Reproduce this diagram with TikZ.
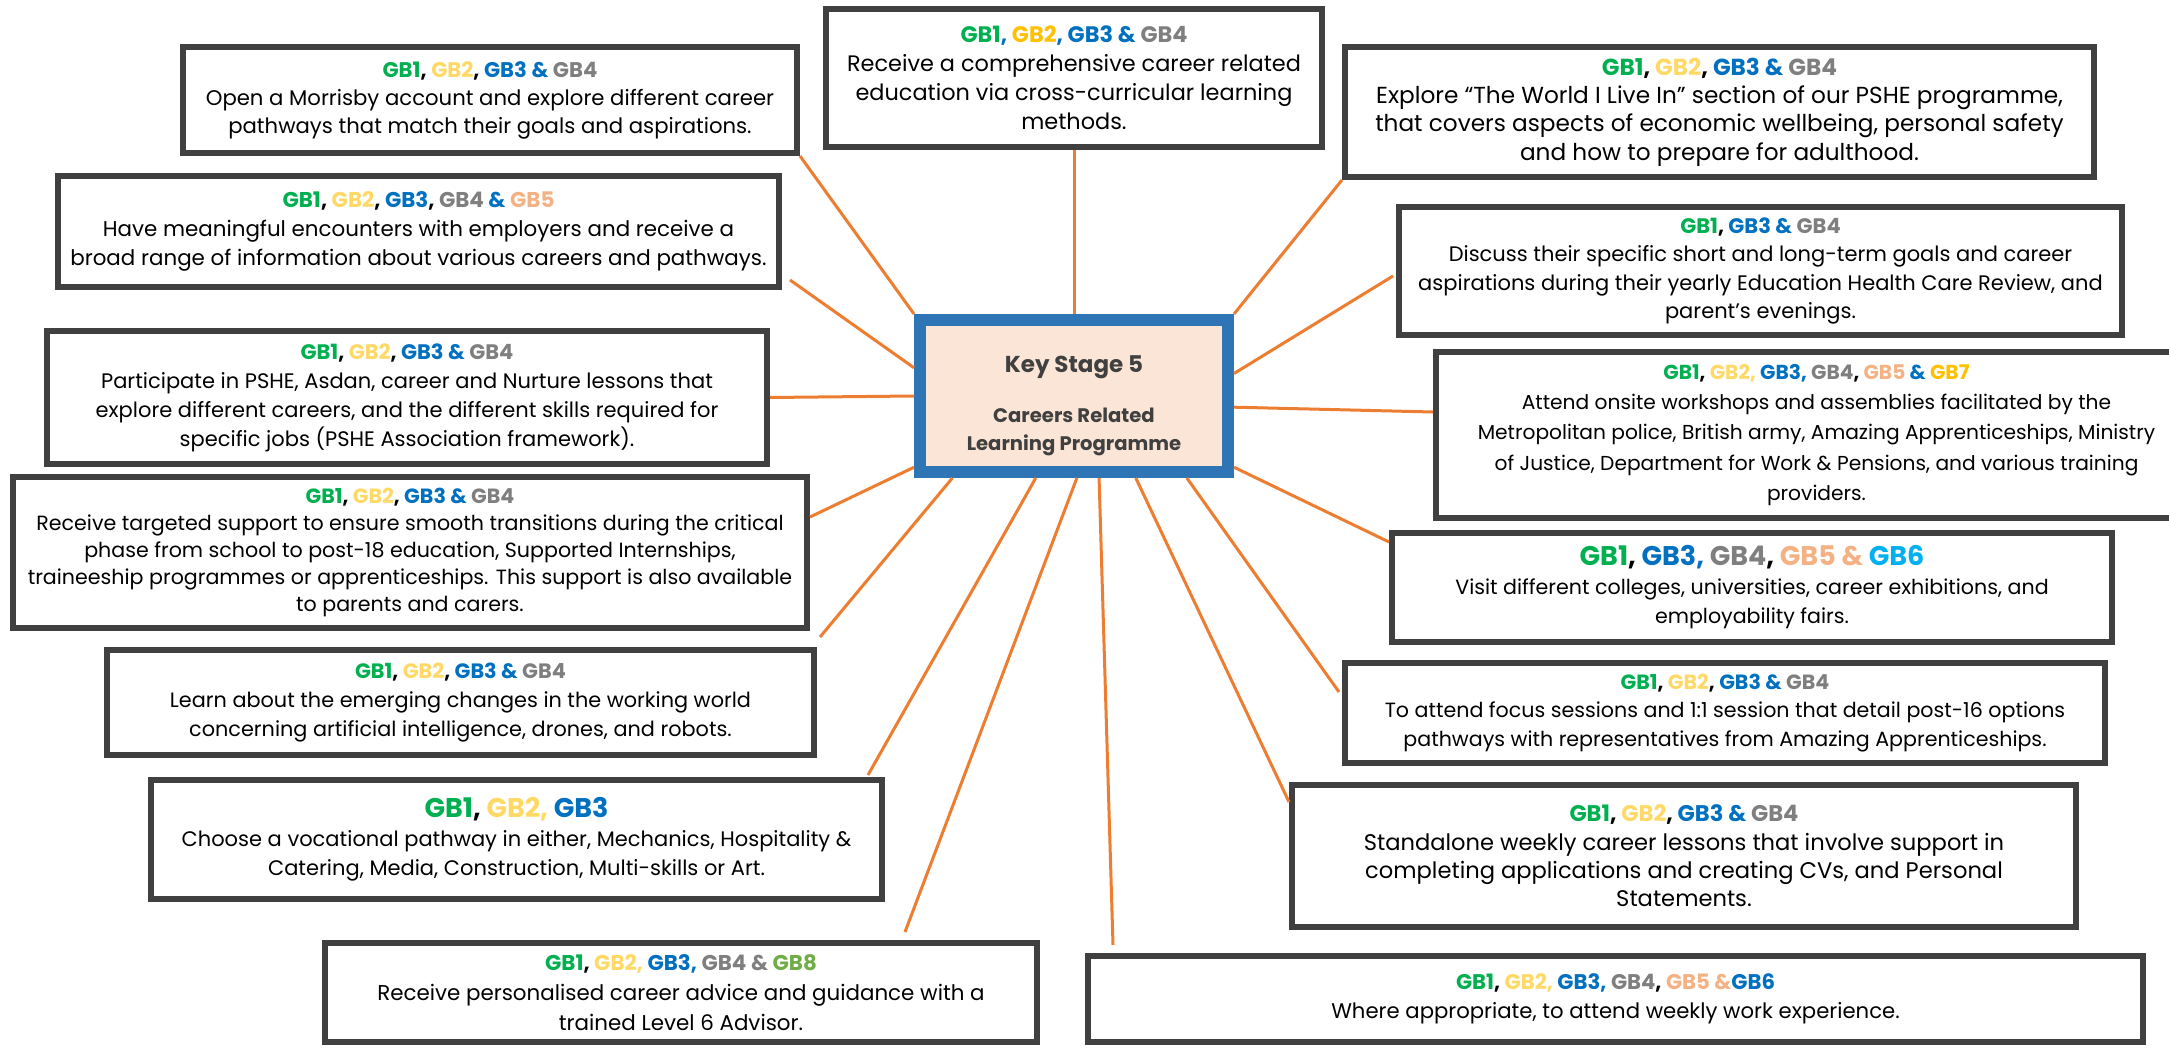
\documentclass[tikz,border=0pt]{standalone}
\usepackage{fontspec}
\setmainfont{Poppins}
\usetikzlibrary{calc}

\definecolor{gbgreen}{HTML}{00B050}
\definecolor{gbgold}{HTML}{FFC000}
\definecolor{gblight}{HTML}{FFD966}
\definecolor{gbblue}{HTML}{0070C0}
\definecolor{gbgray}{HTML}{7F7F7F}
\definecolor{gbpeach}{HTML}{F4B183}
\definecolor{gbsky}{HTML}{00B0F0}
\definecolor{gbolive}{HTML}{70AD47}
\definecolor{boxgray}{HTML}{404040}
\definecolor{linkorange}{HTML}{ED7D31}
\definecolor{ksblue}{HTML}{2E75B6}
\definecolor{kspeach}{HTML}{FBE5D6}

\newcommand{\gbc}[2]{\textcolor{#1}{#2}}

\tikzset{
  gbbox/.style={draw=boxgray, line width=3pt, fill=white, align=center,
    inner sep=1pt, text=black},
  gbfont/.style 2 args={font=\fontsize{#1}{#2}\selectfont},
  link/.style={draw=linkorange, line width=1.5pt},
}

\begin{document}
\begin{tikzpicture}[x=0.5pt, y=-0.5pt]
  \fill[white] (0,0) rectangle (2169,1048);
  \useasboundingbox (0,0) rectangle (2169,1048);

  % centre
  \node[draw=ksblue, line width=6pt, fill=kspeach, minimum width=154pt, minimum height=76pt,
        align=center, text=boxgray, font=\bfseries\fontsize{9.8}{14}\selectfont]
        (ks) at (1074,396)
        {{\fontsize{11.5}{14}\selectfont\rule{0pt}{18pt}Key Stage 5}\\[11pt] Careers Related\\Learning Programme};

  % left column
  \node[gbbox, gbfont={10.6}{14}, minimum width=307pt, minimum height=53pt] (morr) at (490,100)
    {{\bfseries\gbc{gbgreen}{GB1}, \gbc{gblight}{GB2}, \gbc{gbblue}{GB3 \&} \gbc{gbgray}{GB4}}\\
     Open a Morrisby account and explore different career\\
     pathways that match their goals and aspirations.};
  \node[gbbox, gbfont={10.7}{14.5}, minimum width=360.5pt, minimum height=55.5pt] (meet) at (418.5,231.5)
    {{\bfseries\gbc{gbgreen}{GB1}, \gbc{gblight}{GB2}, \gbc{gbblue}{GB3}, \gbc{gbgray}{GB4} \gbc{gbblue}{\&} \gbc{gbpeach}{GB5}}\\
     Have meaningful encounters with employers and receive a\\
     broad range of information about various careers and pathways.};
  \node[gbbox, gbfont={10.5}{14.5}, minimum width=360pt, minimum height=66.5pt] (part) at (407,397.5)
    {{\bfseries\gbc{gbgreen}{GB1}, \gbc{gblight}{GB2}, \gbc{gbblue}{GB3 \&} \gbc{gbgray}{GB4}}\\
     Participate in PSHE, Asdan, career and Nurture lessons that\\
     explore different careers, and the different skills required for\\
     specific jobs (PSHE Association framework).};
  \node[gbbox, gbfont={10.3}{13.6}, minimum width=397pt, minimum height=75.5pt] (targ) at (410,552.5)
    {{\bfseries\gbc{gbgreen}{GB1}, \gbc{gblight}{GB2}, \gbc{gbblue}{GB3 \&} \gbc{gbgray}{GB4}}\\
     Receive targeted support to ensure smooth transitions during the critical\\
     phase from school to post-18 education, Supported Internships,\\
     traineeship programmes or apprenticeships. This support is also available\\
     to parents and carers.};
  \node[gbbox, gbfont={10.4}{14.5}, minimum width=353.5pt, minimum height=52.5pt] (learn) at (460.5,702.5)
    {{\bfseries\gbc{gbgreen}{GB1}, \gbc{gblight}{GB2}, \gbc{gbblue}{GB3 \&} \gbc{gbgray}{GB4}}\\
     Learn about the emerging changes in the working world\\
     concerning artificial intelligence, drones, and robots.};
  \node[gbbox, gbfont={10.5}{14.5}, minimum width=365.5pt, minimum height=59.5pt] (choose) at (516.5,839.5)
    {{\bfseries\fontsize{13.5}{17}\selectfont\gbc{gbgreen}{GB1}, \gbc{gblight}{GB2,} \gbc{gbblue}{GB3}}\\
     Choose a vocational pathway in either, Mechanics, Hospitality \&\\
     Catering, Media, Construction, Multi-skills or Art.};
  \node[gbbox, gbfont={10.7}{14.8}, minimum width=356pt, minimum height=49.5pt] (pers) at (681,992.5)
    {{\bfseries\gbc{gbgreen}{GB1}, \gbc{gblight}{GB2,} \gbc{gbblue}{GB3,} \gbc{gbgray}{GB4 \&} \gbc{gbolive}{GB8}}\\
     Receive personalised career advice and guidance with a\\
     trained Level 6 Advisor.};

  % top
  \node[gbbox, gbfont={11.2}{14.5}, minimum width=248pt, minimum height=69pt] (comp) at (1074,78)
    {{\bfseries\gbc{gbgreen}{GB1}\gbc{gbblue}{,} \gbc{gbgold}{GB2}\gbc{gbblue}{,} \gbc{gbblue}{GB3 \&} \gbc{gbgray}{GB4}}\\
     Receive a comprehensive career related\\
     education via cross-curricular learning\\
     methods.};

  % right column
  \node[gbbox, gbfont={11.6}{14.2}, minimum width=374.5pt, minimum height=65pt] (world) at (1719.5,112)
    {{\bfseries\gbc{gbgreen}{GB1}, \gbc{gblight}{GB2}, \gbc{gbblue}{GB3 \&} \gbc{gbgray}{GB4}}\\
     Explore “The World I Live In” section of our PSHE programme,\\
     that covers aspects of economic wellbeing, personal safety\\
     and how to prepare for adulthood.};
  \node[gbbox, gbfont={10.5}{14.3}, minimum width=361.5pt, minimum height=64pt] (disc) at (1760.5,271)
    {{\bfseries\gbc{gbgreen}{GB1}, \gbc{gbblue}{GB3 \&} \gbc{gbgray}{GB4}}\\
     Discuss their specific short and long-term goals and career\\
     aspirations during their yearly Education Health Care Review, and\\
     parent’s evenings.};
  \node[gbbox, gbfont={10.1}{15.2}, minimum width=380.5pt, minimum height=83pt] (att) at (1816.5,435)
    {{\bfseries\gbc{gbgreen}{GB1}, \gbc{gblight}{GB2,} \gbc{gbblue}{GB3,} \gbc{gbgray}{GB4}, \gbc{gbpeach}{GB5} \gbc{gbblue}{\&} \gbc{gbgold}{GB7}}\\
     Attend onsite workshops and assemblies facilitated by the\\
     Metropolitan police, British army, Amazing Apprenticeships, Ministry\\
     of Justice, Department for Work \& Pensions, and various training\\
     providers.};
  \node[gbbox, gbfont={10.3}{14.5}, minimum width=360pt, minimum height=54.5pt] (visit) at (1752,587.5)
    {{\bfseries\fontsize{13.5}{17}\selectfont\gbc{gbgreen}{GB1}, \gbc{gbblue}{GB3,} \gbc{gbgray}{GB4}, \gbc{gbpeach}{GB5 \&} \gbc{gbsky}{GB6}}\\
     Visit different colleges, universities, career exhibitions, and\\
     employability fairs.};
  \node[gbbox, gbfont={10.3}{14.2}, minimum width=380pt, minimum height=50pt] (focus) at (1725,713)
    {{\bfseries\gbc{gbgreen}{GB1}, \gbc{gblight}{GB2}, \gbc{gbblue}{GB3 \&} \gbc{gbgray}{GB4}}\\
     To attend focus sessions and 1:1 session that detail post-16 options\\
     pathways with representatives from Amazing Apprenticeships.};
  \node[gbbox, gbfont={11.3}{14.2}, minimum width=392pt, minimum height=71pt] (stand) at (1684,856)
    {{\bfseries\gbc{gbgreen}{GB1}, \gbc{gblight}{GB2}, \gbc{gbblue}{GB3 \&} \gbc{gbgray}{GB4}}\\
     Standalone weekly career lessons that involve support in\\
     completing applications and creating CVs, and Personal\\
     Statements.};
  \node[gbbox, gbfont={10.6}{14.5}, minimum width=527.5pt, minimum height=43pt] (where) at (1615.5,999)
    {{\bfseries\gbc{gbgreen}{GB1}, \gbc{gblight}{GB2,} \gbc{gbblue}{GB3,} \gbc{gbgray}{GB4}, \gbc{gbpeach}{GB5 \&}\gbc{gbblue}{GB6}}\\
     Where appropriate, to attend weekly work experience.};

  % connectors
  \draw[link] (morr.south east) -- (ks.north west);
  \draw[link] (comp.south) -- (ks.north);
  \draw[link] (world.south west) -- (ks.north east);
  \draw[link] ($(meet.south east)+(8,-10)$) -- (ks.170);
  \draw[link] (part.east) -- (ks.west);
  \draw[link] ($(targ.north east)+(0,43)$) -- (ks.204);
  \draw[link] ($(learn.north east)+(3,-10)$) -- (ks.214);
  \draw[link] ($(choose.north east)+(-17,-2)$) -- (ks.245);
  \draw[link] ($(pers.north)+(224,-8)$) -- (ks.272);
  \draw[link] ($(where.north west)+(28,-8)$) -- (ks.287);
  \draw[link] ($(stand.north west)+(0,20)$) -- (ks.307);
  \draw[link] ($(focus.north west)+(-3,32)$) -- (ks.324);
  \draw[link] ($(visit.north west)+(0,12)$) -- (ks.336);
  \draw[link] ($(att.west)+(0,-23)$) -- (ks.356);
  \draw[link] ($(disc.north west)+(-3,72)$) -- (ks.8);
\end{tikzpicture}
\end{document}
